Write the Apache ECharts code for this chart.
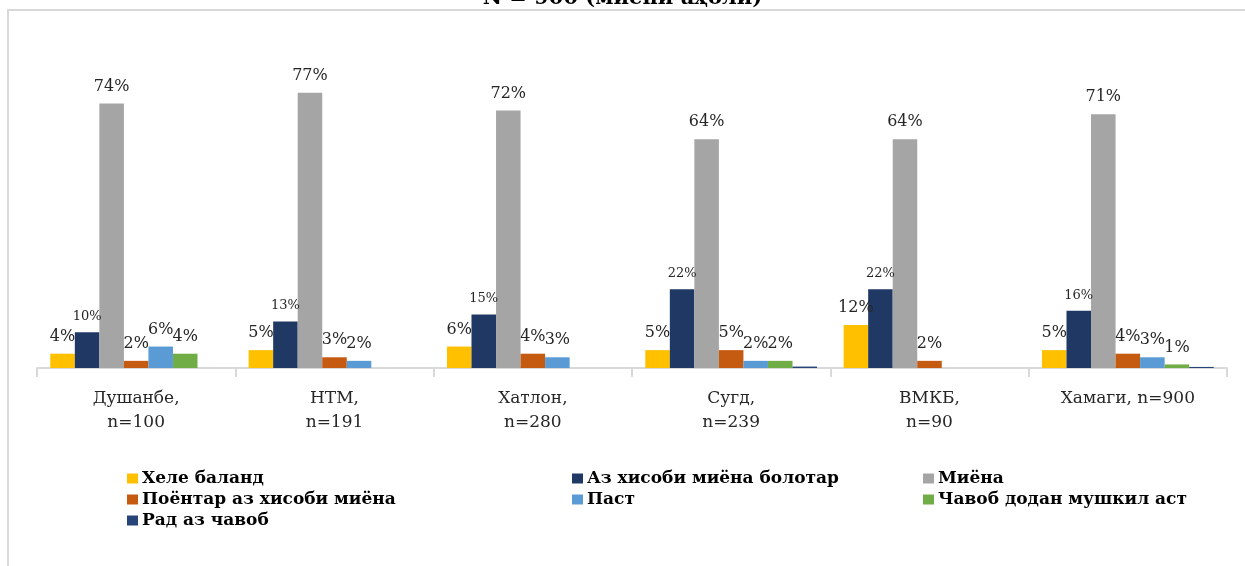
<!DOCTYPE html>
<html>
<head>
<meta charset="utf-8">
<script src="https://cdn.jsdelivr.net/npm/echarts@6/dist/echarts.min.js"></script>
<style>html,body{margin:0;padding:0;background:#fff}#c{width:1245px;height:566px}</style>
</head>
<body>
<div id="c"></div>
<script>
const categories = ['Душанбе,\nn=100', 'НТМ,\nn=191', 'Хатлон,\nn=280', 'Сугд,\nn=239', 'ВМКБ,\nn=90', 'Хамаги, n=900'];
const seriesNames = ['Хеле баланд', 'Аз хисоби миёна болотар', 'Миёна', 'Поёнтар аз хисоби миёна', 'Паст', 'Чавоб додан мушкил аст', 'Рад аз чавоб'];
const heleBaland = [4, 5, 6, 5, 12, 5];
const azHisobiBolotar = [10, 13, 15, 22, 22, 16];
const miyona = [74, 77, 72, 64, 64, 71];
const poyontar = [2, 3, 4, 5, 2, 4];
const past = [6, 2, 3, 2, null, 3];
const chavobMushkil = [4, null, null, 2, null, 1];
const radAzChavob = [null, null, null, 0.4, null, 0.3];
const seriesValues = [heleBaland, azHisobiBolotar, miyona, poyontar, past, chavobMushkil, radAzChavob];
const colors = ['#FFC000', '#1F3864', '#A5A5A5', '#C55A11', '#5B9BD5', '#70AD47', '#264478'];
const titleText = 'N = 900 (миёни аҳолӣ)';

const serif = '"DejaVu Serif", serif';
const series = seriesValues.map((vals, i) => ({
  name: seriesNames[i],
  type: 'bar',
  data: vals,
  barGap: '0%',
  barCategoryGap: '13.4%',
  itemStyle: { color: colors[i] },
  label: {
    show: i !== 6,
    position: 'top',
    distance: 9,
    formatter: p => (p.value == null ? '' : p.value + '%'),
    fontFamily: serif,
    fontSize: i === 1 ? 13 : 16,
    color: '#262626'
  }
}));

const chart = echarts.init(document.getElementById('c'));
chart.setOption({
  animation: false,
  title: {
    text: titleText, left: 'center', top: -17,
    textStyle: { fontFamily: serif, fontWeight: 'bold', fontSize: 21, color: '#000' }
  },
  graphic: [{
    type: 'rect', shape: { x: 8, y: 10, width: 1400, height: 700 },
    style: { fill: null, stroke: '#d9d9d9', lineWidth: 2 }, silent: true, z: -1
  }],
  grid: { left: 37, right: 18, top: 82, bottom: 198 },
  xAxis: {
    type: 'category', data: categories,
    axisLine: { lineStyle: { color: '#d9d9d9', width: 2 } },
    axisTick: { show: true, interval: 0, length: 9, lineStyle: { color: '#d9d9d9', width: 2 } },
    axisLabel: { interval: 0, margin: 19, fontFamily: serif, fontSize: 17, lineHeight: 24, color: '#262626' }
  },
  yAxis: { type: 'value', min: 0, max: 80, show: false, splitLine: { show: false } },
  legend: [
    { data: [seriesNames[0], seriesNames[3], seriesNames[6]], left: 122, top: 463 },
    { data: [seriesNames[1], seriesNames[4]], left: 567, top: 463 },
    { data: [seriesNames[2], seriesNames[5]], left: 918, top: 463 }
  ].map(l => Object.assign(l, {
    orient: 'vertical', itemGap: 0, itemWidth: 11, itemHeight: 10, icon: 'rect',
    textStyle: { fontFamily: serif, fontWeight: 'bold', fontSize: 17, lineHeight: 21, color: '#000', padding: [0, 0, 0, -1] }
  })),
  series: series
});
</script>
</body>
</html>
